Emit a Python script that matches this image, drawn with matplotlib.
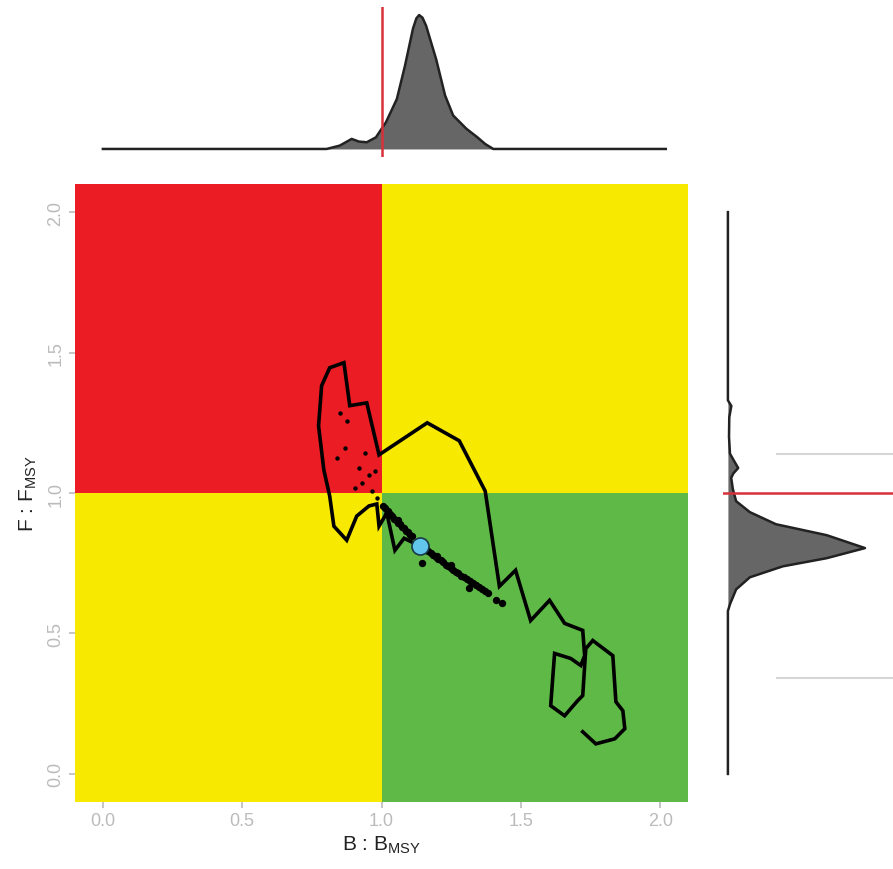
import matplotlib
matplotlib.use("Agg")
import matplotlib.pyplot as plt
import numpy as np

plt.rcParams['font.family'] = ['Liberation Sans', 'DejaVu Sans']
plt.rcParams['mathtext.default'] = 'regular'

# stock trajectory (B/Bmsy, F/Fmsy), oldest year first
traj_b = [1.722, 1.769, 1.837, 1.873, 1.866, 1.841, 1.830, 1.758, 1.733, 1.722,
          1.704, 1.657, 1.607, 1.621, 1.679, 1.715, 1.729, 1.722, 1.657, 1.603,
          1.535, 1.481, 1.423, 1.372, 1.279, 1.164, 0.991, 0.947, 0.886, 0.865,
          0.814, 0.785, 0.774, 0.793, 0.814, 0.829, 0.875, 0.911, 0.955, 0.983,
          0.991, 1.019, 1.048, 1.081, 1.138]
traj_f = [0.150, 0.107, 0.125, 0.161, 0.225, 0.257, 0.421, 0.475, 0.446, 0.279,
          0.261, 0.207, 0.243, 0.429, 0.411, 0.386, 0.421, 0.511, 0.536, 0.618,
          0.546, 0.725, 0.668, 1.007, 1.186, 1.250, 1.136, 1.321, 1.311, 1.464,
          1.446, 1.382, 1.239, 1.082, 0.989, 0.882, 0.832, 0.918, 0.954, 0.961,
          0.882, 0.929, 0.796, 0.839, 0.811]

# posterior draws for the last year (dense band along the diagonal)
post_b = [1.005, 1.014, 1.023, 1.030, 1.037, 1.045, 1.052, 1.059, 1.066, 1.074,
          1.081, 1.088, 1.095, 1.103, 1.110, 1.160, 1.167, 1.176, 1.185, 1.194,
          1.203, 1.212, 1.221, 1.230, 1.239, 1.248, 1.257, 1.266, 1.275, 1.286,
          1.297, 1.308, 1.318, 1.329, 1.340, 1.351, 1.362, 1.372, 1.383,
          1.146, 1.412, 1.434, 1.315, 1.020, 1.060, 1.200, 1.250]
post_f = [0.954, 0.948, 0.936, 0.926, 0.918, 0.909, 0.904, 0.894, 0.889, 0.880,
          0.875, 0.866, 0.861, 0.852, 0.846, 0.800, 0.793, 0.787, 0.779, 0.771,
          0.764, 0.760, 0.754, 0.745, 0.739, 0.732, 0.725, 0.719, 0.714, 0.706,
          0.700, 0.693, 0.686, 0.678, 0.671, 0.664, 0.657, 0.650, 0.643,
          0.750, 0.618, 0.607, 0.661, 0.925, 0.905, 0.775, 0.745]

# scattered draws in the red quadrant
dots_b = [0.850, 0.875, 0.868, 0.839, 0.940, 0.919, 0.955, 0.976, 0.929, 0.904,
          0.965, 0.983]
dots_f = [1.286, 1.257, 1.161, 1.125, 1.143, 1.089, 1.064, 1.079, 1.036, 1.018,
          1.007, 0.982]

# marginal densities (scaled to peak = 1)
dens_b_x = [0.0, 0.803, 0.850, 0.893, 0.919, 0.947, 0.980, 1.016, 1.055, 1.084,
            1.113, 1.125, 1.135, 1.147, 1.160, 1.196, 1.228, 1.257, 1.305, 1.344,
            1.372, 1.401, 2.02]
dens_b_y = [0.0, 0.0, 0.025, 0.075, 0.055, 0.050, 0.087, 0.20, 0.373, 0.62,
            0.90, 0.975, 1.0, 0.98, 0.92, 0.67, 0.40, 0.25, 0.15, 0.087,
            0.037, 0.0, 0.0]

dens_f_y = [0.0, 0.58, 0.604, 0.657, 0.70, 0.739, 0.768, 0.804, 0.85, 0.889,
            0.932, 0.971, 1.014, 1.054, 1.07, 1.089, 1.11, 1.14, 1.20, 1.27,
            1.31, 1.33, 2.0]
dens_f_x = [0.0, 0.0, 0.015, 0.06, 0.16, 0.40, 0.72, 1.0, 0.72, 0.35,
            0.16, 0.06, 0.036, 0.024, 0.04, 0.075, 0.05, 0.015, 0.008, 0.01,
            0.025, 0.0, 0.0]

last_b, last_f = 1.138, 0.811

red = '#EC1C24'
yellow = '#F7E900'
green = '#5FB947'
lim = (-0.1, 2.1)

fig = plt.figure(figsize=(8.93, 8.70), dpi=100)
ax = fig.add_axes([0.084, 0.077, 0.6865, 0.7103])
ax_top = fig.add_axes([0.084, 0.8184, 0.6865, 0.1724])
ax_right = fig.add_axes([0.8096, 0.077, 0.1904, 0.7103])

# kobe quadrants
ax.fill_between([lim[0], 1], 1, lim[1], color=red, lw=0)
ax.fill_between([1, lim[1]], 1, lim[1], color=yellow, lw=0)
ax.fill_between([lim[0], 1], lim[0], 1, color=yellow, lw=0)
ax.fill_between([1, lim[1]], lim[0], 1, color=green, lw=0)

ax.scatter(dots_b, dots_f, s=10, color='black', lw=0, zorder=3)
ax.scatter(post_b, post_f, s=28, color='black', lw=0, zorder=3)
ax.plot(traj_b, traj_f, color='black', lw=2.6, solid_joinstyle='miter', zorder=4)
ax.scatter([last_b], [last_f], s=150, color='#62C6EC', edgecolor='#1a3a4a', lw=1.2, zorder=5)

ax.set_xlim(lim)
ax.set_ylim(lim)
ticks = [0.0, 0.5, 1.0, 1.5, 2.0]
ax.set_xticks(ticks)
ax.set_yticks(ticks)
ax.set_xticklabels(['0.0', '0.5', '1.0', '1.5', '2.0'])
ax.set_yticklabels(['0.0', '0.5', '1.0', '1.5', '2.0'], rotation=90, va='center')
ax.tick_params(colors='#BBBBBB', labelsize=13, length=4, width=1.2)
for s in ax.spines.values():
    s.set_visible(False)
ax.set_xlabel(r'B : B$_{MSY}$', fontsize=15, color='#222222', labelpad=3)
ax.set_ylabel(r'F : F$_{MSY}$', fontsize=15, color='#222222', labelpad=6)

# top marginal
ax_top.fill_between(dens_b_x, 0, dens_b_y, color='#666666', lw=0)
ax_top.plot(dens_b_x, dens_b_y, color='#222222', lw=1.8)
ax_top.axvline(1.0, color='#D8313B', lw=1.8)
ax_top.set_xlim(lim)
ax_top.set_ylim(-0.06, 1.06)
ax_top.axis('off')

# right marginal
ax_right.fill_betweenx(dens_f_y, 0, dens_f_x, color='#666666', lw=0)
ax_right.plot(dens_f_x, dens_f_y, color='#222222', lw=1.8)
ax_right.plot([0.36, 1.21], [1.14, 1.14], color='#D5D5D5', lw=1.5)
ax_right.plot([0.36, 1.21], [0.34, 0.34], color='#D5D5D5', lw=1.5)
ax_right.axhline(1.0, color='#D8313B', lw=1.8)
ax_right.set_xlim(-0.036, 1.204)
ax_right.set_ylim(lim)
ax_right.axis('off')

fig.savefig('out.png', dpi=100)
